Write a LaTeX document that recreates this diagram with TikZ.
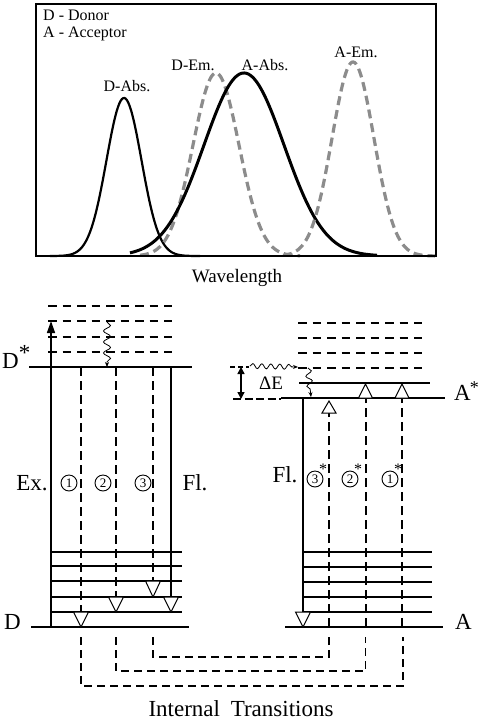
\documentclass[tikz,border=0pt]{standalone}
\usepackage{fontspec}
\setmainfont{Liberation Serif}
\usetikzlibrary{arrows.meta,decorations.pathmorphing}
\definecolor{emgray}{RGB}{140,140,140}
\begin{document}
\begin{tikzpicture}[x=1pt,y=-1pt,
  declare function={gau(\t)=exp(-0.5*\t*\t);},
  emline/.style={line width=3.2pt, emgray, dash pattern=on 9pt off 5pt},
  lvl/.style={line width=2.2pt},
  elvl/.style={line width=2pt, dash pattern=on 8.5pt off 6pt},
  gnd/.style={line width=1.4pt},
  trans/.style={line width=2pt, dash pattern=on 9pt off 5pt},
  conn/.style={line width=1.8pt, dash pattern=on 8pt off 5pt},
  tri/.style={draw, line width=1pt, fill=white},
  circnum/.style={circle, draw, line width=0.9pt, inner sep=0pt, minimum size=16pt, font=\fontsize{13}{13}\selectfont},
  starlbl/.style={inner sep=0pt, font=\fontsize{16}{16}\selectfont},
  lbl/.style={inner sep=0pt, font=\fontsize{16}{18}\selectfont},
  biglbl/.style={inner sep=0pt, font=\fontsize{23}{25}\selectfont},
  wavy/.style={line width=0.8pt, decorate, decoration={snake, amplitude=3.5pt, segment length=11pt, post length=4pt}, -{Stealth[length=5pt,width=4pt]}}
]
\useasboundingbox (0,0) rectangle (480,721);

% ---------- spectra ----------
\draw[line width=2.2pt] plot[domain=50:200, samples=120, smooth] (\x, {256-158*gau((\x-124)/17.5)});
\draw[emline] plot[domain=140:300, samples=120, smooth] (\x, {256-183*gau((\x-216)/23)});
\draw[line width=3pt] plot[domain=130:377, samples=150, smooth] (\x, {256-183*gau((\x-244)/40)});
\draw[emline] plot[domain=283:435, samples=120, smooth] (\x, {256-194*gau((\x-353)/21)});
\draw[line width=1.3pt] (36,4) rectangle (436,256);

\node[lbl, anchor=west] (don) at (43,15) {D - Donor};
\node[lbl, anchor=west] (acc) at (43,34) {A - Acceptor};
\node[lbl] (dabs) at (127,86) {D-Abs.};
\node[lbl] (dem) at (193,65) {D-Em.};
\node[lbl] (aabs) at (265,65) {A-Abs.};
\node[lbl] (aem) at (356,52) {A-Em.};
\node[inner sep=0pt, font=\fontsize{19}{21}\selectfont] (wl) at (237,278) {Wavelength};

% ---------- donor ----------
\foreach \y in {306,321,337,352} \draw[elvl] (48,\y) -- (172,\y);
\draw[gnd] (29,367) -- (192,367);
\node[biglbl, anchor=base west] (dstar) at (2,368) {D\raisebox{0.33em}{*}};
\foreach \y in {552,566,581,597,612} \draw[lvl] (51,\y) -- (182,\y);
\draw[gnd] (31,627) -- (189,627);
\node[biglbl, anchor=base west] (dgnd) at (4,629) {D};

\draw[line width=1.5pt, -{Triangle[length=12pt,width=8pt]}] (51,627) -- (51,321);
\draw[wavy] (107,322) -- (107,367);

\draw[trans] (81,367) -- (81,612);
\draw[trans] (116,367) -- (116,597);
\draw[trans] (153,367) -- (153,581);
\draw[gnd] (171,367) -- (171,597);
\draw[tri] (73.5,612) -- (88.5,612) -- (81,627) -- cycle;
\draw[tri] (108.5,597) -- (123.5,597) -- (116,612) -- cycle;
\draw[tri] (145.5,581) -- (160.5,581) -- (153,597) -- cycle;
\draw[tri] (163.5,597) -- (178.5,597) -- (171,612) -- cycle;

\node[biglbl] (ex) at (32,483) {Ex.};
\node[circnum] (c1) at (69,483) {1};
\node[circnum] (c2) at (103,483) {2};
\node[circnum] (c3) at (143,483) {3};
\node[biglbl] (fld) at (195,483) {Fl.};

% ---------- acceptor ----------
\foreach \y in {323,338,353,368} \draw[elvl] (298,\y) -- (422,\y);
\draw[lvl] (299,383) -- (430,383);
\draw[gnd] (281,398) -- (445,398);
\node[biglbl, anchor=base west] (astar) at (454,400) {A\hspace{-1pt}\raisebox{0.3em}{\fontsize{18}{18}\selectfont*}};
\foreach \y in {552,567,582,597,612} \draw[lvl] (303,\y) -- (432,\y);
\draw[gnd] (285,627) -- (443,627);
\node[biglbl, anchor=base west] (agnd) at (455,629) {A};

\draw[gnd] (303,398) -- (303,612);
\draw[trans] (329,627) -- (329,413);
\draw[trans] (365.5,627) -- (365.5,398);
\draw[trans] (402,627) -- (402,398);
\draw[tri] (295.5,612) -- (310.5,612) -- (303,627) -- cycle;
\draw[tri] (322,413) -- (336,413) -- (329,401) -- cycle;
\draw[tri] (358.5,398) -- (372.5,398) -- (365.5,384) -- cycle;
\draw[tri] (395,398) -- (409,398) -- (402,384) -- cycle;
\draw[wavy, decoration={snake, amplitude=3pt, segment length=10pt, post length=4pt}] (308,368) -- (311,397);

\node[biglbl] (fla) at (285,475) {Fl.};
\node[circnum] (c3s) at (315,479) {3};
\node[starlbl] at (323,469) {*};
\node[circnum] (c2s) at (350,479) {2};
\node[starlbl] at (358,469) {*};
\node[circnum] (c1s) at (390,479) {1};
\node[starlbl] at (398,469) {*};

% ---------- Delta E ----------
\draw[line width=1.5pt, dash pattern=on 5pt off 3pt] (230,367) -- (249,367);
\draw[wavy, decoration={snake, amplitude=2.5pt, segment length=9pt, post length=4pt}] (250,366) -- (298,367);
\draw[line width=1.5pt, dash pattern=on 8pt off 3.5pt] (233,399) -- (281,399);
\draw[line width=1.5pt, {Triangle[length=7pt,width=7pt]}-{Triangle[length=7pt,width=7pt]}] (241,367) -- (241,399);
\node[inner sep=0pt, font=\fontsize{19}{21}\selectfont] (de) at (271,383) {ΔE};

% ---------- internal transitions ----------
\draw[conn] (153,637) -- (153,657) -- (329,657) -- (329,637);
\draw[conn] (116,637) -- (116,671) -- (365.5,671) -- (365.5,637);
\draw[conn] (81,637) -- (81,686) -- (403,686) -- (403,637);
\node[inner sep=0pt, font=\fontsize{23}{25}\selectfont] (it) at (241,709) {Internal\hspace{5pt} Transitions};
\end{tikzpicture}
\end{document}
